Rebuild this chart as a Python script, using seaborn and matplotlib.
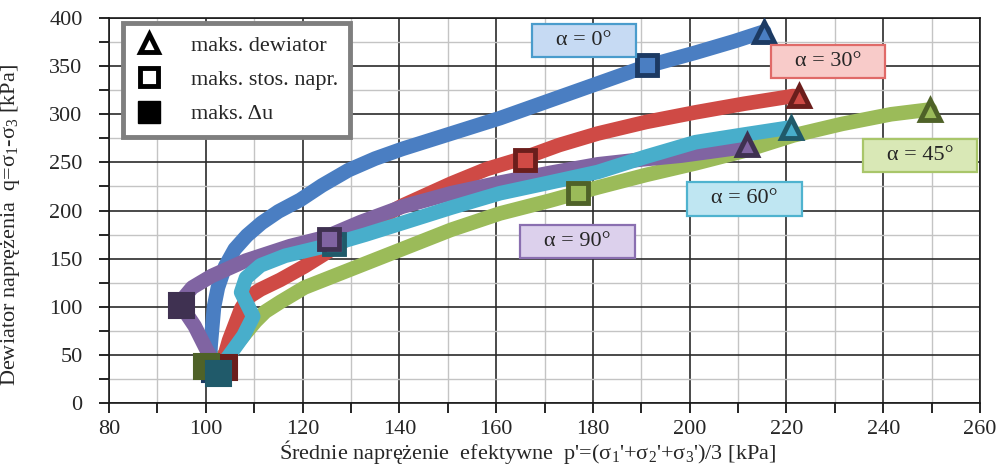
import matplotlib

matplotlib.use("Agg")

import matplotlib.pyplot as plt
import pandas as pd
import seaborn as sns
from matplotlib.lines import Line2D
from matplotlib.ticker import MultipleLocator

# --- data (p' in kPa, q in kPa) ---
ANGLES = ["0", "30", "45", "60", "90"]

p_0 = [100.7, 101.0, 101.7, 102.5, 104, 106, 108.5, 111.5, 115, 119.5, 124, 129.5, 135, 140.6,
       150.7, 160.8, 170.9, 181.0, 191.1, 201.2, 209.3, 215.4]
q_0 = [30, 60, 100, 120, 142, 160, 174, 187, 199, 211, 226, 242, 254, 264,
       280, 296, 314, 332, 350, 364, 376, 386]

p_30 = [103.2, 104.8, 107.3, 108.8, 111.3, 115.4, 120.4, 125.5, 130.5, 135.5, 140.6, 150.7, 158,
        165.9, 173, 181.0, 191.0, 201.2, 211.3, 221.4]
q_30 = [37, 65, 98, 110, 118, 128, 142, 158, 175, 191, 205, 228, 243,
        255, 268, 280, 292, 302, 311, 319]

p_45 = [100.2, 105.3, 110.3, 112.3, 115.4, 120.4, 130.5, 140.6, 150.7, 160.8, 170.9, 181.0,
        191.0, 201.2, 211.3, 221.4, 231.5, 241.6, 249.7]
q_45 = [37, 55, 85, 95, 105, 120, 140, 160, 180, 197, 210, 224,
        237, 249, 262, 278, 290, 300, 305]

p_60 = [101.2, 104.2, 107.8, 109.8, 108.3, 107.3, 108.3, 111.3, 116.4, 125.5, 133, 140.6,
        150.7, 160.8, 171, 181.0, 191, 201.2, 211.3, 220.4]
q_60 = [28, 45, 70, 90, 105, 115, 130, 143, 153, 164, 175, 187,
        203, 218, 229, 240, 256, 271, 279, 286]

p_90 = [101.7, 100.2, 97.7, 95.7, 95.2, 97.2, 101.2, 108.3, 117.4, 124.5, 132, 140.6,
        150.7, 160.8, 171, 181.0, 190, 198.2, 211.3]
q_90 = [42, 55, 80, 95, 108, 120, 132, 148, 163, 172, 188, 204,
        218, 229, 239, 248, 253, 257, 266]

# markers, in ANGLES order
dev_p = [215.4, 222.5, 249.7, 220.9, 211.8]
dev_q = [386, 319, 304, 286, 268]
ratio_p = [191.1, 165.9, 177.0, 126.5, 125.5]
ratio_q = [351, 253, 218, 165, 170]
du_p = [101.7, 103.7, 100.0, 102.5, 94.8]
du_q = [35, 37, 38, 31, 102]

LABELS = ["α = 0°", "α = 30°", "α = 45°", "α = 60°", "α = 90°"]
LEGEND_TEXT = ["maks. dewiator", "maks. stos. napr.", "maks. Δu"]

# --- styling ---
LINE = {"0": "#4a7ec2", "30": "#cf4a45", "45": "#9bbb59", "60": "#48aecb", "90": "#8064a2"}
DARK = {"0": "#1c3a63", "30": "#6b1e1c", "45": "#4f6228", "60": "#205a6a", "90": "#3f3151"}
BOX_FC = {"0": "#c6daf3", "30": "#f8cbc9", "45": "#d9e8b6", "60": "#bfe6f2", "90": "#dcd0ec"}
BOX_EC = {"0": "#4a9ccc", "30": "#e06a68", "45": "#a9c66a", "60": "#4fb3cf", "90": "#8a6fb0"}
LABEL_POS = {"0": (178.1, 377), "30": (228.6, 355), "45": (247.6, 257), "60": (211.3, 212), "90": (176.8, 168)}
DRAW_ORDER = ["45", "30", "0", "90", "60"]

sns.set_style("white")
plt.rcParams["font.family"] = ["Liberation Serif", "DejaVu Serif"]
plt.rcParams["mathtext.fontset"] = "custom"
plt.rcParams["mathtext.rm"] = "Liberation Serif"
plt.rcParams["mathtext.it"] = "Liberation Serif:italic"

series = {"0": (p_0, q_0), "30": (p_30, q_30), "45": (p_45, q_45), "60": (p_60, q_60), "90": (p_90, q_90)}
frames = []
for a, (p, q) in series.items():
    frames.append(pd.DataFrame({"p": p, "q": q, "alpha": a}))
df = pd.concat(frames, ignore_index=True)

fig = plt.figure(figsize=(10.02, 4.67), dpi=100)
ax = fig.add_axes([0.1088, 0.137, 0.8693, 0.8244])

sns.lineplot(
    data=df, x="p", y="q", hue="alpha", hue_order=DRAW_ORDER, palette=LINE,
    sort=False, estimator=None, linewidth=10.5, legend=False, ax=ax,
    solid_capstyle="round", solid_joinstyle="round",
)

for i, a in enumerate(ANGLES):
    ax.plot(du_p[i], du_q[i], marker="s", ms=18, mfc=DARK[a], mec=DARK[a], mew=1.5, zorder=4, ls="none")
for i, a in enumerate(ANGLES):
    ax.plot(ratio_p[i], ratio_q[i], marker="s", ms=14, mfc=LINE[a], mec=DARK[a], mew=3.5, zorder=5, ls="none")
    ax.plot(dev_p[i], dev_q[i], marker="^", ms=14, mfc=LINE[a], mec=DARK[a], mew=3.5, zorder=5, ls="none")

for a, txt in zip(ANGLES, LABELS):
    x, y = LABEL_POS[a]
    ax.text(x, y, "   " + txt + "   ", ha="center", va="center", fontsize=16, zorder=6,
            bbox=dict(boxstyle="square,pad=0.32", fc=BOX_FC[a], ec=BOX_EC[a], lw=1.6))

ax.set_xlim(80, 260)
ax.set_ylim(0, 400)
ax.xaxis.set_major_locator(MultipleLocator(20))
ax.xaxis.set_minor_locator(MultipleLocator(10))
ax.yaxis.set_major_locator(MultipleLocator(50))
ax.yaxis.set_minor_locator(MultipleLocator(25))
ax.grid(which="major", color="#2b2b2b", lw=1.2)
ax.grid(which="minor", color="#c4c4c4", lw=1.0)
ax.set_axisbelow(True)
ax.tick_params(which="both", direction="out", length=7, width=1.2, color="black",
               bottom=True, left=True, labelsize=16)
ax.tick_params(axis="x", pad=5)
ax.tick_params(axis="y", pad=12)
for side in ["left", "bottom", "top", "right"]:
    ax.spines[side].set_color("#1a1a1a")
    ax.spines[side].set_linewidth(1.2)

ax.set_xlabel("Średnie naprężenie  efektywne  p'=(σ$_1$'+σ$_2$'+σ$_3$')/3 [kPa]", fontsize=16)
ax.set_ylabel("Dewiator naprężenia  q=σ$_1$-σ$_3$ [kPa]", fontsize=16)
ax.xaxis.set_label_coords(0.481, -0.091)
ax.yaxis.set_label_coords(-0.1, 0.462)

handles = [
    Line2D([], [], ls="none", marker="^", ms=13, mfc="white", mec="black", mew=3.5),
    Line2D([], [], ls="none", marker="s", ms=13, mfc="white", mec="black", mew=3.5),
    Line2D([], [], ls="none", marker="s", ms=16, mfc="black", mec="black"),
]
leg = ax.legend(handles, LEGEND_TEXT, loc="upper left", bbox_to_anchor=(0.016, 0.987),
                fontsize=16, frameon=True, fancybox=False, framealpha=1, edgecolor="#7f7f7f",
                handlelength=1.2, handletextpad=1.3, labelspacing=0.62, borderpad=0.55,
                borderaxespad=0)
leg.get_frame().set_linewidth(3.5)
leg.set_zorder(7)

fig.savefig("out.png", dpi=100)
